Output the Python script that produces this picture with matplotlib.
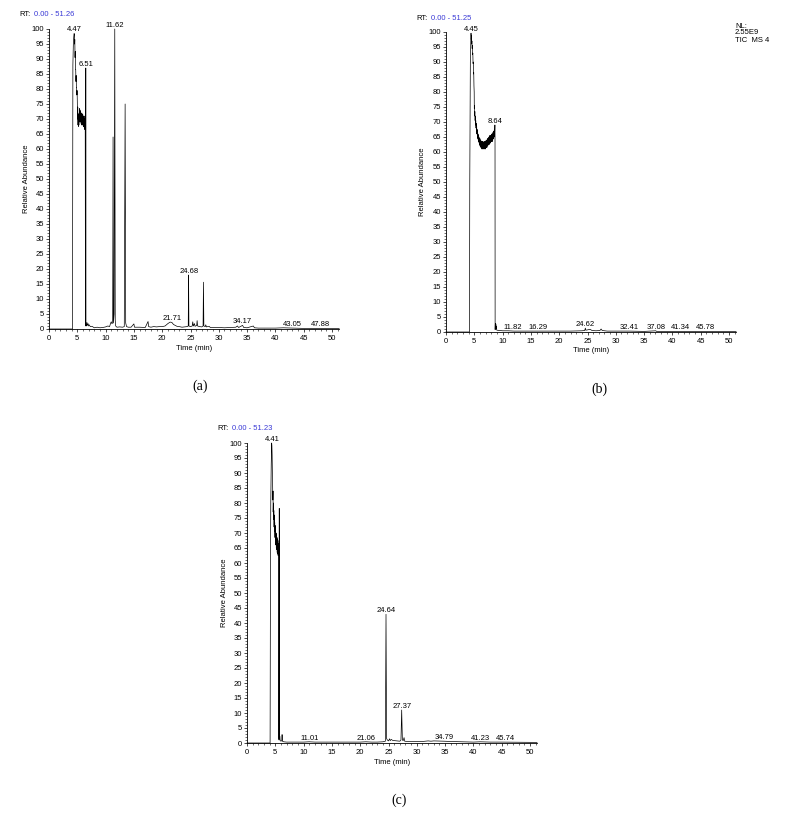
import matplotlib
matplotlib.use('Agg')
import matplotlib.pyplot as plt
from matplotlib.ticker import MultipleLocator

# ---------------- data ----------------
# Panel (a)
a_time = [0.00, 4.15, 4.19, 4.22, 4.30, 4.38, 4.44, 4.47, 4.52, 4.56, 4.60, 4.64, 4.68,
          4.72, 4.76, 4.80, 4.84, 4.88, 4.92, 4.96, 5.00, 5.04, 5.08, 5.12, 5.16, 5.20,
          5.24, 5.28, 5.32, 5.36, 5.40, 5.44, 5.48, 5.52, 5.56, 5.60, 5.64, 5.68, 5.72,
          5.76, 5.80, 5.84, 5.88, 5.92, 5.96, 6.00, 6.04, 6.08, 6.12, 6.16, 6.20, 6.24,
          6.28, 6.32, 6.36, 6.40, 6.44, 6.47, 6.50, 6.53, 6.60, 6.70, 6.78, 6.90, 7.00,
          7.10, 7.30, 7.60, 8.00, 8.50, 9.00, 9.50, 10.00, 10.40, 10.70, 10.90, 11.00,
          11.10, 11.25, 11.32, 11.38, 11.50, 11.62, 11.70, 11.78, 12.00, 12.50, 13.00,
          13.30, 13.45, 13.55, 13.70, 14.00, 14.50, 15.00, 15.10, 16.00, 17.00, 17.50,
          17.60, 18.00, 18.50, 19.00, 19.50, 20.00, 20.50, 21.00, 21.40, 21.70, 22.00,
          22.30, 22.60, 23.00, 23.50, 24.00, 24.40, 24.60, 24.66, 24.72, 25.00, 25.30,
          25.40, 25.50, 25.70, 25.80, 26.10, 26.17, 26.25, 26.60, 27.00, 27.22, 27.29,
          27.36, 27.60, 27.70, 27.80, 28.30, 28.50, 29.00, 30.00, 31.00, 32.00, 33.00,
          33.30, 33.50, 34.20, 34.40, 35.00, 36.10, 36.30, 37.00, 38.00, 40.00, 41.40,
          43.00, 45.00, 48.00, 51.26]
a_abund = [0.0, 0.0, 60.0, 88.0, 95.0, 97.5, 98.5, 98.2, 95.0, 96.5, 90.5, 92.5, 86.5,
           86.5, 82.5, 84.5, 80.5, 80.5, 78.0, 79.5, 76.0, 70.0, 74.0, 68.0, 71.5, 67.5,
           70.0, 68.0, 72.0, 69.0, 73.5, 69.5, 73.0, 70.0, 72.5, 69.0, 72.0, 68.5, 71.5,
           68.0, 72.0, 68.5, 71.0, 68.0, 71.5, 68.0, 71.0, 67.5, 70.5, 67.5, 71.0, 67.0,
           70.0, 66.5, 69.5, 66.5, 1.0, 1.2, 87.0, 1.5, 1.0, 2.2, 1.2, 1.8, 1.0,
           1.4, 0.8, 0.9, 0.4, 0.6, 0.4, 0.5, 0.7, 1.0, 0.8, 2.0, 2.4,
           1.8, 2.0, 64.0, 2.0, 5.0, 100.0, 3.0, 1.0, 0.6, 0.7, 0.6,
           0.8, 75.0, 2.0, 0.8, 0.6, 0.6, 1.7, 0.6, 0.6, 0.5, 2.5,
           0.8, 0.6, 0.8, 0.7, 0.8, 0.8, 1.0, 1.8, 2.3, 2.2, 1.5,
           1.2, 0.9, 0.8, 0.6, 0.7, 0.8, 1.0, 18.0, 1.0, 0.8, 1.0,
           2.4, 1.0, 1.8, 0.9, 1.2, 2.8, 1.0, 0.8, 0.7, 1.0, 15.6,
           1.0, 0.8, 1.4, 0.7, 0.9, 0.5, 0.5, 0.5, 0.4, 0.5, 0.6,
           1.0, 0.5, 1.2, 0.5, 0.4, 1.0, 0.4, 0.3, 0.3, 0.3, 0.4,
           0.3, 0.2, 0.2, 0.2]
a_peak_rt = [4.47, 6.51, 11.62, 21.71, 24.68, 34.17, 43.05, 47.88]
a_peak_ab = [98.5, 87.0, 100.0, 2.3, 18.0, 1.2, 0.3, 0.2]
a_range = "0.00 - 51.26"
a_tmax = 51.26

# Panel (b)
b_time = [0.00, 4.15, 4.20, 4.30, 4.42, 4.46, 4.50, 4.54, 4.58, 4.62, 4.66, 4.70, 4.74,
          4.78, 4.82, 4.86, 4.90, 4.94, 4.98, 5.00, 5.02, 5.06, 5.10, 5.14, 5.18, 5.22,
          5.26, 5.30, 5.34, 5.38, 5.42, 5.46, 5.50, 5.54, 5.58, 5.62, 5.66, 5.70, 5.74,
          5.78, 5.82, 5.86, 5.90, 5.94, 5.98, 6.02, 6.06, 6.10, 6.14, 6.18, 6.22, 6.26,
          6.30, 6.34, 6.38, 6.42, 6.46, 6.50, 6.54, 6.58, 6.62, 6.66, 6.70, 6.74, 6.78,
          6.82, 6.86, 6.90, 6.94, 6.98, 7.02, 7.06, 7.10, 7.14, 7.18, 7.22, 7.26, 7.30,
          7.34, 7.38, 7.42, 7.46, 7.50, 7.54, 7.58, 7.62, 7.66, 7.70, 7.74, 7.78, 7.82,
          7.86, 7.90, 7.94, 7.98, 8.02, 8.06, 8.10, 8.14, 8.18, 8.22, 8.26, 8.30, 8.34,
          8.38, 8.42, 8.46, 8.50, 8.54, 8.58, 8.62, 8.64, 8.66, 8.68, 8.72, 8.76, 8.80,
          8.84, 8.88, 8.92, 9.00, 9.50, 10.00, 11.00, 12.00, 14.00, 16.00, 18.00, 20.00,
          22.00, 24.00, 24.50, 24.62, 24.70, 25.00, 25.45, 25.80, 26.50, 27.20, 27.40,
          27.60, 28.50, 30.00, 32.40, 35.00, 37.08, 37.20, 40.00, 45.00, 51.25]
b_abund = [0.0, 0.0, 50.0, 90.0, 99.6, 97.5, 98.8, 96.0, 97.0, 94.5, 95.5, 92.5, 93.0,
           89.5, 90.0, 86.0, 86.5, 82.0, 80.0, 74.5, 75.5, 72.0, 73.5, 70.5, 72.0, 69.0,
           70.5, 68.0, 69.5, 67.0, 68.5, 66.0, 67.5, 65.5, 67.0, 64.5, 66.0, 64.0, 65.5,
           63.5, 65.0, 63.0, 64.5, 62.5, 64.5, 62.0, 64.0, 62.0, 64.0, 61.5, 63.5, 61.5,
           63.5, 61.0, 63.5, 61.5, 63.0, 61.0, 63.5, 61.5, 63.0, 61.0, 63.0, 61.5, 63.5,
           61.0, 63.0, 61.5, 63.5, 61.0, 63.5, 61.5, 64.0, 62.0, 63.5, 61.5, 64.0, 62.0,
           64.5, 62.0, 64.0, 62.5, 64.5, 62.5, 65.0, 62.5, 64.5, 63.0, 65.5, 63.0, 65.0,
           63.0, 65.5, 63.5, 65.0, 63.5, 66.0, 64.0, 65.5, 63.5, 66.0, 64.0, 66.5, 64.5,
           66.5, 64.5, 67.0, 65.0, 67.5, 65.5, 68.0, 69.0, 66.0, 0.8, 2.9, 1.0, 2.7,
           1.2, 2.0, 0.8, 0.6, 0.5, 0.4, 0.4, 0.3, 0.3, 0.3, 0.3, 0.3,
           0.3, 0.4, 0.5, 1.3, 0.6, 0.7, 0.9, 0.5, 0.4, 0.5, 1.0,
           0.5, 0.3, 0.3, 0.3, 0.2, 0.4, 0.2, 0.2, 0.2, 0.2]
b_peak_rt = [4.45, 8.64, 11.82, 16.29, 24.62, 32.41, 37.08, 41.34, 45.78]
b_peak_ab = [99.6, 69.0, 0.4, 0.3, 1.3, 0.3, 0.4, 0.2, 0.2]
b_range = "0.00 - 51.25"
b_tmax = 51.25
b_info = ["NL:", "2.55E9", "TIC  MS 4"]

# Panel (c)
c_time = [0.00, 4.08, 4.14, 4.20, 4.28, 4.36, 4.40, 4.44, 4.48, 4.52, 4.56, 4.60, 4.62,
          4.66, 4.70, 4.74, 4.78, 4.82, 4.86, 4.90, 4.94, 4.98, 5.02, 5.06, 5.10, 5.14,
          5.18, 5.22, 5.26, 5.30, 5.34, 5.38, 5.42, 5.46, 5.50, 5.54, 5.58, 5.60, 5.66,
          5.70, 5.74, 5.80, 5.86, 6.00, 6.15, 6.20, 6.25, 6.50, 7.00, 8.00, 10.00, 11.00,
          12.00, 14.00, 16.00, 18.00, 20.00, 21.00, 22.00, 23.00, 24.00, 24.45, 24.56,
          24.66, 24.80, 25.00, 25.20, 25.30, 25.50, 25.70, 26.00, 26.50, 27.00, 27.20,
          27.33, 27.45, 27.60, 27.75, 27.85, 28.50, 30.00, 31.00, 32.00, 32.50, 33.00,
          34.80, 36.00, 38.00, 40.00, 41.20, 43.00, 45.00, 51.23]
c_abund = [0.0, 0.0, 55.0, 80.0, 93.0, 100.0, 99.0, 96.0, 90.0, 88.0, 81.0, 84.0, 77.0,
           80.0, 74.5, 77.5, 72.0, 76.0, 70.5, 73.5, 68.5, 72.5, 67.0, 70.5, 66.0, 70.0,
           65.0, 69.5, 64.5, 68.5, 63.5, 68.0, 63.0, 67.5, 62.5, 66.5, 62.0, 1.5, 1.0,
           78.2, 1.5, 2.2, 0.8, 0.6, 0.8, 2.8, 0.6, 0.4, 0.3, 0.3, 0.3, 0.4,
           0.3, 0.3, 0.3, 0.3, 0.3, 0.4, 0.3, 0.3, 0.4, 0.6, 42.9,
           1.5, 1.0, 0.7, 1.4, 0.8, 1.2, 0.9, 0.8, 0.7, 0.6, 1.0,
           11.0, 1.0, 0.8, 1.8, 0.6, 0.5, 0.5, 0.5, 0.7, 0.6, 0.7,
           0.6, 0.5, 0.4, 0.3, 0.4, 0.3, 0.3, 0.2]
c_peak_rt = [4.41, 11.01, 21.06, 24.64, 27.37, 34.79, 41.23, 45.74]
c_peak_ab = [100.0, 0.4, 0.4, 42.9, 11.0, 0.6, 0.4, 0.3]
c_range = "0.00 - 51.23"
c_tmax = 51.23

x_label = "Time (min)"
y_label = "Relative Abundance"

# ---------------- layout ----------------
W, H = 791, 814
SANS = ['Liberation Sans', 'DejaVu Sans']
SERIF = ['Liberation Serif', 'DejaVu Serif']
plt.rcParams['font.family'] = SANS
FS = 5.5

fig = plt.figure(figsize=(W / 100, H / 100), dpi=100)


def fx(px):
    return px / W


def fy(py):
    return 1 - py / H


def panel(left, top, tmax, times, abund, prt, pab, rng, letter, letter_xy,
          xlab_y, ylab_x):
    width = tmax * 5.66
    height = 300
    ax = fig.add_axes([fx(left), fy(top + height), width / W, height / H])
    ax.plot(times, abund, color='black', lw=0.5, clip_on=False)
    ax.set_xlim(0, tmax)
    ax.set_ylim(0, 100)
    for s in ('top', 'right'):
        ax.spines[s].set_visible(False)
    for s in ('left', 'bottom'):
        ax.spines[s].set_linewidth(0.6)
    ax.xaxis.set_major_locator(MultipleLocator(5))
    ax.xaxis.set_minor_locator(MultipleLocator(1))
    ax.yaxis.set_major_locator(MultipleLocator(5))
    ax.yaxis.set_minor_locator(MultipleLocator(1))
    ax.tick_params(which='major', length=2.4, width=0.5, labelsize=FS, pad=1.2)
    ax.tick_params(which='minor', length=1.3, width=0.4)
    ax.tick_params(axis='x', which='major', pad=2.0)
    for rt, ab in zip(prt, pab):
        ax.annotate(f"{rt:.2f}", (rt, ab), xytext=(0, 0.2),
                    textcoords='offset points', ha='center', va='bottom',
                    fontsize=FS, annotation_clip=False)
    cx = left + width / 2
    fig.text(fx(cx), fy(xlab_y), x_label, ha='center', va='center', fontsize=FS)
    fig.text(fx(ylab_x), fy(top + height / 2), y_label, ha='center', va='center',
             rotation=90, fontsize=FS)
    fig.text(fx(left - 30), fy(top - 14), "RT:", ha='left', va='center',
             fontsize=FS, color='black')
    fig.text(fx(left - 30 + 14.6), fy(top - 14), rng, ha='left', va='center',
             fontsize=FS, color='#3a3ad6')
    fig.text(fx(letter_xy[0]), fy(letter_xy[1]), letter, ha='center',
             va='center', fontsize=10, family=SERIF)
    return ax


ax_a = panel(49, 29, a_tmax, a_time, a_abund, a_peak_rt, a_peak_ab, a_range,
             "(a)", (200, 386), 348, 27)
ax_b = panel(446, 32, b_tmax, b_time, b_abund, b_peak_rt, b_peak_ab, b_range,
             "(b)", (599, 389), 351, 423)
ax_c = panel(247, 443, c_tmax, c_time, c_abund, c_peak_rt, c_peak_ab, c_range,
             "(c)", (399, 800), 762, 224)

for line, ypx in zip(b_info, [26.5, 32.5, 40]):
    fig.text(fx(735), fy(ypx), line, ha='left', va='center', fontsize=FS)

fig.savefig('out.png', dpi=100)
